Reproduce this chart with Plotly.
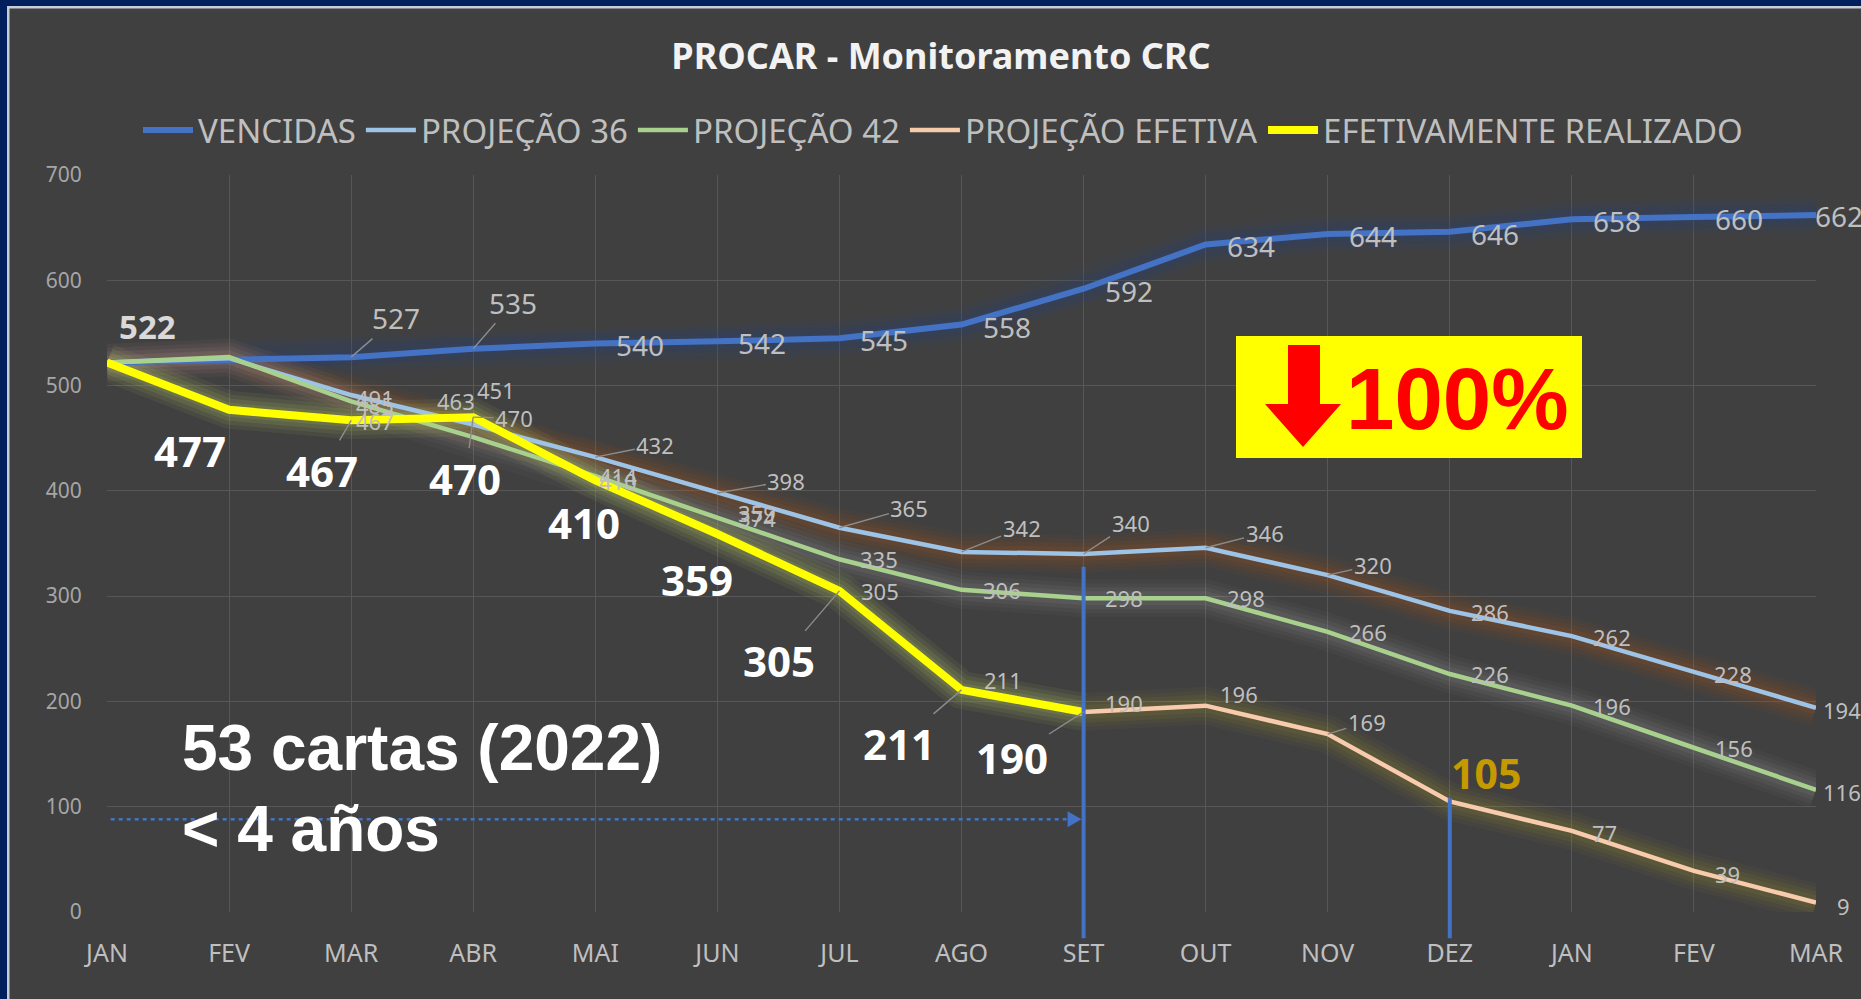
import plotly.graph_objects as go

# ---------------- data ----------------
months = ["JAN", "FEV", "MAR", "ABR", "MAI", "JUN", "JUL", "AGO", "SET",
          "OUT", "NOV", "DEZ", "JAN", "FEV", "MAR"]
vencidas = [522, 525, 527, 535, 540, 542, 545, 558, 592, 634, 644, 646, 658, 660, 662]
proj36 = [522, 526, 491, 463, 432, 398, 365, 342, 340, 346, 320, 286, 262, 228, 194]
proj42 = [522, 527, 485, 451, 414, 374, 335, 306, 298, 298, 266, 226, 196, 156, 116]
efetiva = [522, 477, 467, 470, 410, 359, 305, 211, 190, 196, 169, 105, 77, 39, 9]
realizado = [522, 477, 467, 470, 410, 359, 305, 211, 190,
             None, None, None, None, None, None]
y_ticks = [0, 100, 200, 300, 400, 500, 600, 700]
note_line1 = "53 cartas (2022)"
note_line2 = "< 4 años"
badge_text = "100%"
marker_set = 8      # index of SET
marker_dez = 11     # index of DEZ
x = list(range(len(months)))

# ---------------- geometry helpers ----------------
W, H = 1861, 999
L, R, T, B = 107, 45, 175, 87
PW, PH = W - L - R, H - T - B


def px(xp):
    return (xp - L) / PW


def py(yp):
    return (H - B - yp) / PH


FONT = "Noto Sans, Open Sans, DejaVu Sans, sans-serif"
ARIAL = "Liberation Sans, Arial, sans-serif"
BG = "#404040"
LEAD = "#8c8c8c"

fig = go.Figure()

series = [
    ("VENCIDAS", vencidas, "#4472c4", 6, (35, 65, 140), 1.2),
    ("PROJEÇÃO 36", proj36, "#9dc3e6", 4.5, (197, 90, 17), 1.0),
    ("PROJEÇÃO 42", proj42, "#a9d18e", 4.5, (190, 190, 190), 0.8),
    ("PROJEÇÃO EFETIVA", efetiva, "#f8cbad", 4.5, (180, 165, 40), 0.9),
    ("EFETIVAMENTE REALIZADO", realizado, "#ffff00", 8, (160, 200, 135), 1.0),
]

# glow layers (soft halo around each line)
for name, vals, col, w, g, k in series:
    for gw, ga in ((38, 0.05), (30, 0.06), (22, 0.08), (14, 0.10)):
        fig.add_trace(go.Scatter(
            x=x, y=vals, mode="lines", showlegend=False, hoverinfo="skip",
            line=dict(color=f"rgba({g[0]},{g[1]},{g[2]},{ga * k:.3f})", width=gw),
            connectgaps=False))

# main lines
for name, vals, col, w, g, k in series:
    fig.add_trace(go.Scatter(
        x=x, y=vals, mode="lines", name=name, hoverinfo="skip",
        line=dict(color=col, width=w), connectgaps=False))

# ---------------- data labels ----------------
# (dx, dy, leader) pixel offsets per point, None = no label
venc_off = [None, None, (45, -39, True), (40, -46, True)] + [(45, 2, False)] * 10 + [(23, 1, False)]
p36_off = [None, None, (24, 3, False), (-17, -24, False), (60, -12, True), (69, -12, True),
           (70, -20, True), (60, -24, True), (47, -31, True), (59, -15, True),
           (45, -10, True), (40, 1, False), (40, 1, False), (39, 2, False), (26, 2, False)]
p42_off = [None, None, (24, 4, False), (23, -47, False), (23, 0, False)] + [(40, 0, False)] * 9 + [(26, 2, False)]
ef_off = [None, None, (24, 1, False), (41, 1, True), (23, 1, False), (40, -21, False),
          (41, 0, False), (41, -10, False), (40, -9, False), (33, -12, False),
          (39, -12, True), None, (33, 2, False), (34, 3, False), (27, 3, False)]
real_off = [None, (-39, 41, False), (-29, 50, True), (-8, 61, True), (-11, 42, False),
            (-20, 45, False), (-60, 70, True), (-63, 54, True), (-72, 46, True)] + [None] * 6


def add_labels(vals, offs, size, color, weight="normal"):
    for i, (v, off) in enumerate(zip(vals, offs)):
        if v is None or off is None:
            continue
        dx, dy, lead = off
        fig.add_annotation(
            x=i, y=v, text=str(v), showarrow=True, ax=dx, ay=dy,
            arrowhead=0, arrowwidth=1.4, standoff=0,
            arrowcolor=LEAD if lead else "rgba(0,0,0,0)",
            font=dict(family=FONT, size=size, color=color, weight=weight))


add_labels(vencidas, venc_off, 28, "#bfbfbf")
add_labels(proj36, p36_off, 22, "#bfbfbf")
add_labels(proj42, p42_off, 22, "#bfbfbf")
add_labels(efetiva, ef_off, 22, "#bfbfbf")
add_labels(realizado, real_off, 42, "#ffffff", "bold")

# special labels
fig.add_annotation(x=0, y=vencidas[0], text=str(vencidas[0]), showarrow=True,
                   ax=40, ay=-36, arrowcolor="rgba(0,0,0,0)",
                   font=dict(family=FONT, size=33, color="#d9d9d9", weight="bold"))
fig.add_annotation(x=marker_dez, y=efetiva[marker_dez], text=str(efetiva[marker_dez]),
                   showarrow=True, ax=36, ay=-28, arrowcolor="rgba(0,0,0,0)",
                   font=dict(family=FONT, size=41, color="#c49a00", weight="bold"))

# ---------------- decorations ----------------
shapes = []
shapes.append(dict(type="line", xref="x", yref="paper", x0=marker_set, x1=marker_set,
                   y0=-25 / 700, y1=328 / 700, line=dict(color="#4472c4", width=4)))
shapes.append(dict(type="line", xref="x", yref="paper", x0=marker_dez, x1=marker_dez,
                   y0=-25 / 700, y1=108 / 700, line=dict(color="#4472c4", width=4)))
shapes.append(dict(type="line", xref="x", yref="y", x0=0.03, x1=marker_set - 0.1,
                   y0=88, y1=88, line=dict(color="#4472c4", width=2.5, dash="4px,4px")))
shapes.append(dict(type="path", xref="x", yref="y", xsizemode="pixel", ysizemode="pixel",
                   xanchor=marker_set, yanchor=88, path="M -16,-8 L -2,0 L -16,8 Z",
                   fillcolor="#4472c4", line=dict(width=0)))
shapes.append(dict(type="rect", xref="paper", yref="paper", x0=px(1236), x1=px(1582),
                   y0=py(458), y1=py(336), fillcolor="#ffff00", line=dict(width=0)))
arrow_path = (f"M {px(1288)},{py(345)} L {px(1320)},{py(345)} L {px(1320)},{py(404)} "
              f"L {px(1341)},{py(404)} L {px(1303)},{py(447)} L {px(1265)},{py(404)} "
              f"L {px(1288)},{py(404)} Z")
shapes.append(dict(type="path", xref="paper", yref="paper", path=arrow_path,
                   fillcolor="#ff0000", line=dict(width=0)))
# navy frame
shapes.append(dict(type="rect", xref="paper", yref="paper", x0=px(0), x1=px(W),
                   y0=py(6), y1=py(0), fillcolor="#001f5c", line=dict(width=0), layer="above"))
shapes.append(dict(type="rect", xref="paper", yref="paper", x0=px(0), x1=px(W),
                   y0=py(8.5), y1=py(6), fillcolor="#c8ccd6", line=dict(width=0), layer="above"))
shapes.append(dict(type="rect", xref="paper", yref="paper", x0=px(0), x1=px(7),
                   y0=py(H), y1=py(0), fillcolor="#001f5c", line=dict(width=0), layer="above"))
shapes.append(dict(type="rect", xref="paper", yref="paper", x0=px(7), x1=px(9.5),
                   y0=py(H), y1=py(6), fillcolor="#c8ccd6", line=dict(width=0), layer="above"))

fig.add_annotation(xref="paper", yref="paper", x=px(1457), y=py(398), text=badge_text,
                   showarrow=False, xanchor="center", yanchor="middle",
                   font=dict(family=ARIAL, size=87, color="#ff0000", weight="bold"))
fig.add_annotation(xref="paper", yref="paper", x=px(180), y=py(748), text=note_line1,
                   showarrow=False, xanchor="left", yanchor="middle",
                   font=dict(family=ARIAL, size=64, color="#ffffff", weight="bold"))
fig.add_annotation(xref="paper", yref="paper", x=px(180), y=py(829), text=note_line2,
                   showarrow=False, xanchor="left", yanchor="middle",
                   font=dict(family=ARIAL, size=64, color="#ffffff", weight="bold"))

fig.update_layout(
    width=W, height=H,
    margin=dict(l=L, r=R, t=T, b=B),
    paper_bgcolor=BG, plot_bgcolor=BG,
    font=dict(family=FONT, color="#bfbfbf"),
    shapes=shapes,
    title=dict(text="PROCAR - Monitoramento CRC", x=941 / W, xref="container",
               xanchor="center", y=1 - 56 / H, yref="container", yanchor="middle",
               font=dict(family=FONT, size=36, color="#f2f2f2", weight="bold")),
    legend=dict(orientation="h", x=px(943), xanchor="center", y=py(130),
                yanchor="middle", font=dict(family=FONT, size=33, color="#bfbfbf"),
                bgcolor="rgba(0,0,0,0)", itemwidth=50, tracegroupgap=0),
    xaxis=dict(range=[0, len(months) - 1], tickmode="array", tickvals=x, ticktext=months,
               showgrid=True, gridcolor="#575757", gridwidth=1, zeroline=False,
               showline=False, ticks="outside", ticklen=19, tickcolor="rgba(0,0,0,0)",
               tickfont=dict(family=FONT, size=25, color="#bfbfbf")),
    yaxis=dict(range=[0, 700], tickmode="array", tickvals=y_ticks,
               showgrid=True, gridcolor="#575757", gridwidth=1, zeroline=False,
               showline=False, ticks="outside", ticklen=20, tickcolor="rgba(0,0,0,0)",
               tickfont=dict(family=FONT, size=21, color="#a6a6a6")),
    hovermode=False,
)

fig.write_html("out.html", config={"displayModeBar": False},
               post_script="document.body.style.margin='0';document.body.style.overflow='hidden';")
